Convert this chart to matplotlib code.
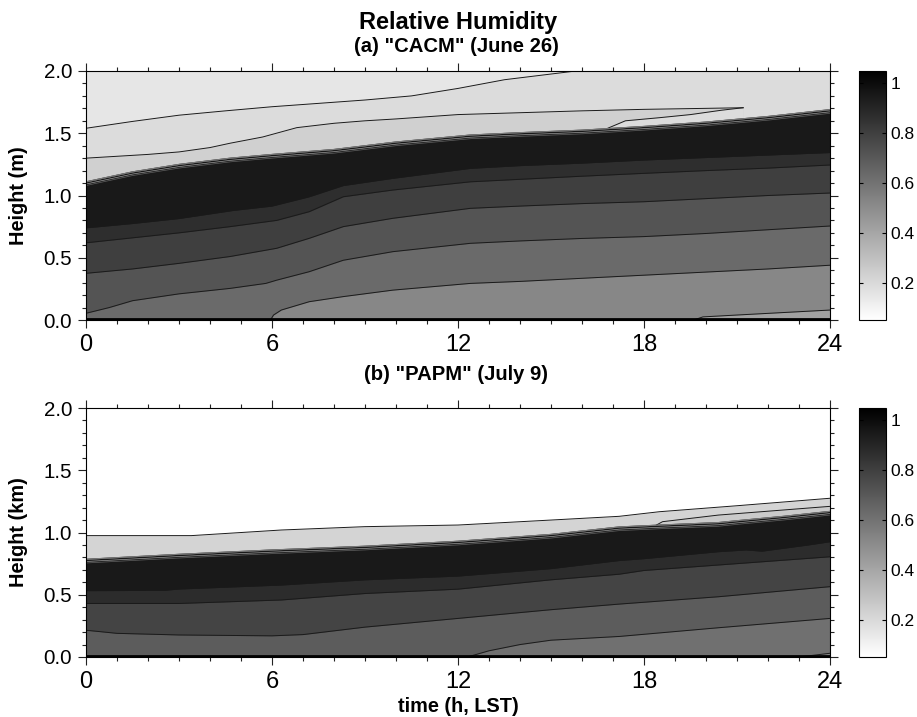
import matplotlib
matplotlib.use("Agg")
import matplotlib.pyplot as plt
from matplotlib.colors import Normalize
from matplotlib.cm import ScalarMappable
from matplotlib.ticker import MultipleLocator, FormatStrFormatter

plt.rcParams['font.family'] = ['Liberation Sans', 'DejaVu Sans']

# ---------------- data: panel (a) CACM, contour-line heights (m) ----------------
a_top_hours = [0, 1.5, 3, 4.5, 6, 7.5, 9, 10.5, 12, 13.5, 15.8]
a_top_height = [1.54, 1.595, 1.645, 1.68, 1.713, 1.74, 1.767, 1.80, 1.86, 1.93, 2.0]

a_b_hours = [0, 2, 3, 4, 4.65, 5.7, 6.8, 8, 9, 10, 12, 14, 16, 18, 20, 21.2]
a_b_height = [1.30, 1.33, 1.35, 1.385, 1.42, 1.47, 1.545, 1.58, 1.60, 1.615, 1.65, 1.665, 1.68, 1.692, 1.70, 1.705]

a_lens_hours = [16.8, 17.4, 18.5, 19.5, 20.5, 21.2]
a_lens_height = [1.537, 1.60, 1.625, 1.65, 1.685, 1.705]

a_c_hours = [0, 1.5, 3, 4.65, 6, 8, 10, 12.4, 14, 16, 18, 20, 22, 24]
a_c_height = [1.11, 1.19, 1.25, 1.30, 1.33, 1.37, 1.43, 1.486, 1.505, 1.525, 1.555, 1.59, 1.635, 1.69]

a_d_hours = [0, 1.5, 3, 4.75, 6, 7.2, 8.3, 9.9, 12.4, 14, 16, 18, 20, 22, 24]
a_d_height = [0.74, 0.775, 0.815, 0.88, 0.915, 0.99, 1.08, 1.138, 1.218, 1.24, 1.26, 1.285, 1.305, 1.325, 1.345]

a_e_hours = [0, 1.5, 3, 4.65, 6.15, 7.2, 8.3, 9.9, 12.4, 14, 16, 18, 20, 22, 24]
a_e_height = [0.62, 0.66, 0.70, 0.75, 0.80, 0.87, 0.99, 1.044, 1.11, 1.13, 1.155, 1.178, 1.20, 1.22, 1.245]

a_f_hours = [0, 1.5, 3, 4.65, 6.15, 7.2, 8.3, 9.9, 12.4, 14, 16, 18, 20, 22, 24]
a_f_height = [0.375, 0.41, 0.455, 0.51, 0.576, 0.656, 0.75, 0.817, 0.897, 0.915, 0.935, 0.95, 0.975, 1.0, 1.02]

a_g_hours = [0, 0.75, 1.5, 3, 4.65, 5.8, 6.15, 7.2, 8.3, 9.9, 12.4, 14, 16, 18, 20, 22, 24]
a_g_height = [0.054, 0.10, 0.155, 0.21, 0.254, 0.294, 0.32, 0.388, 0.48, 0.549, 0.616, 0.635, 0.655, 0.67, 0.695, 0.725, 0.755]

a_h_hours = [5.95, 6.05, 6.3, 7.2, 8.3, 9.9, 12.4, 14, 16, 18, 20, 22, 24]
a_h_height = [0.0, 0.04, 0.08, 0.147, 0.188, 0.24, 0.294, 0.31, 0.335, 0.36, 0.385, 0.41, 0.44]

a_i_hours = [19.6, 19.9, 21, 22.5, 24]
a_i_height = [0.0, 0.025, 0.04, 0.06, 0.08]

# relative humidity of the region under each line (panel a)
a_rh_above_top = 0.15
a_rh_background = 0.19
a_rh_bands = [0.235, 0.19, 0.95, 0.87, 0.80, 0.72, 0.635, 0.52, 0.42]

# ---------------- data: panel (b) PAPM, contour-line heights (km) ----------------
b_top_hours = [0, 3.4, 6.3, 9, 12, 15, 17.2, 18.5, 21, 24]
b_top_height = [0.975, 0.975, 1.02, 1.047, 1.06, 1.10, 1.13, 1.167, 1.215, 1.275]

b_b_hours = [18.4, 18.6, 20.4, 24]
b_b_height = [1.06, 1.087, 1.14, 1.21]

b_c_hours = [0, 3, 6, 9, 12, 15, 17.2, 18.5, 20.4, 21, 22.5, 24]
b_c_height = [0.785, 0.825, 0.86, 0.89, 0.93, 0.985, 1.045, 1.06, 1.08, 1.095, 1.13, 1.17]

b_d_hours = [0, 2.5, 3, 6.3, 9, 12, 15, 17.2, 18, 20.4, 21.3, 21.8, 23.3, 24]
b_d_height = [0.533, 0.535, 0.546, 0.578, 0.62, 0.65, 0.71, 0.775, 0.79, 0.846, 0.86, 0.85, 0.90, 0.926]

b_e_hours = [0, 3, 6.3, 9, 12, 15, 17.2, 18, 20.4, 24]
b_e_height = [0.43, 0.43, 0.458, 0.51, 0.545, 0.62, 0.665, 0.695, 0.739, 0.805]

b_f_hours = [0, 1, 3, 6, 7, 9, 12, 15, 17.2, 20.4, 24]
b_f_height = [0.215, 0.19, 0.177, 0.17, 0.18, 0.24, 0.31, 0.38, 0.425, 0.484, 0.565]

b_g_hours = [12.3, 13, 14, 15, 17.2, 20.4, 24]
b_g_height = [0.0, 0.05, 0.10, 0.135, 0.165, 0.235, 0.31]

b_h_hours = [23.0, 24]
b_h_height = [0.0, 0.03]

b_rh_background = 0.05
b_rh_bands = [0.218, 0.26, 0.95, 0.877, 0.783, 0.689, 0.61, 0.528]

cbar_ticks = [0.2, 0.4, 0.6, 0.8, 1.0]
cbar_ticklabels = ['0.2', '0.4', '0.6', '0.8', '1']
x_major = 6
title = "Relative Humidity"
sub_a = '(a) "CACM" (June 26)'
sub_b = '(b) "PAPM" (July 9)'

# ---------------- drawing ----------------
W, H = 917, 717
fig = plt.figure(figsize=(W / 100, H / 100), dpi=100)
cmap = plt.get_cmap('gray_r')
norm = Normalize(0.05, 1.05)


def shade(v):
    return cmap(norm(v))


def band(ax, hours, heights, v, lc='#1a1a1a', lw=0.7):
    ax.fill_between(hours, 0, heights, color=shade(v), lw=0, zorder=1)
    ax.plot(hours, heights, color=lc, lw=lw, zorder=2)


def boundary(ax, hours, heights):
    # sharp top of the moist layer with crowded contour lines
    ax.plot(hours, heights, color='#7a7a7a', lw=0.8, zorder=3)
    ax.plot(hours, [h - 0.018 for h in heights], color='#9a9a9a', lw=0.5, zorder=3)
    ax.plot(hours, [h - 0.03 for h in heights], color='#606060', lw=0.5, zorder=3)


def style(ax, ylabel):
    ax.set_xlim(0, 24)
    ax.set_ylim(0, 2)
    ax.xaxis.set_major_locator(MultipleLocator(x_major))
    ax.xaxis.set_minor_locator(MultipleLocator(1))
    ax.yaxis.set_major_locator(MultipleLocator(0.5))
    ax.yaxis.set_minor_locator(MultipleLocator(0.1))
    ax.yaxis.set_major_formatter(FormatStrFormatter('%.1f'))
    ax.tick_params(which='both', direction='out', top=True, right=True, width=0.8, color='#222222')
    ax.tick_params(which='major', length=6)
    ax.tick_params(which='minor', length=3)
    ax.tick_params(axis='x', labelsize=17, pad=4)
    ax.tick_params(axis='y', labelsize=14.8, pad=4)
    for s in ax.spines.values():
        s.set_linewidth(0.8)
        s.set_zorder(6)
    ax.set_ylabel(ylabel, fontsize=14.3, fontweight='bold')
    ax.yaxis.set_label_coords(-0.078, 0.5)
    ax.axhline(0.011, color='black', lw=2.0, zorder=4)


ax1 = fig.add_axes([86 / W, 1 - 320 / H, 744 / W, 249 / H])
ax1.set_facecolor(shade(a_rh_background))
ax1.fill_between(a_top_hours, a_top_height, 2.0, color=shade(a_rh_above_top), lw=0, zorder=1)
ax1.plot(a_top_hours, a_top_height, color='#1a1a1a', lw=0.7, zorder=2)
a_lines = [(a_b_hours, a_b_height), (a_lens_hours, a_lens_height), (a_c_hours, a_c_height),
           (a_d_hours, a_d_height), (a_e_hours, a_e_height), (a_f_hours, a_f_height),
           (a_g_hours, a_g_height), (a_h_hours, a_h_height), (a_i_hours, a_i_height)]
for (hrs, hts), v in zip(a_lines, a_rh_bands):
    band(ax1, hrs, hts, v)
boundary(ax1, a_c_hours, a_c_height)
style(ax1, 'Height (m)')

ax2 = fig.add_axes([86 / W, 1 - 657 / H, 744 / W, 249 / H])
ax2.set_facecolor(shade(b_rh_background))
b_lines = [(b_top_hours, b_top_height), (b_b_hours, b_b_height), (b_c_hours, b_c_height),
           (b_d_hours, b_d_height), (b_e_hours, b_e_height), (b_f_hours, b_f_height),
           (b_g_hours, b_g_height), (b_h_hours, b_h_height)]
for (hrs, hts), v in zip(b_lines, b_rh_bands):
    band(ax2, hrs, hts, v)
boundary(ax2, b_c_hours, b_c_height)
style(ax2, 'Height (km)')

sm = ScalarMappable(norm=norm, cmap=cmap)
for top in (71, 408):
    cax = fig.add_axes([859 / W, 1 - (top + 249) / H, 27 / W, 249 / H])
    cb = fig.colorbar(sm, cax=cax, ticks=cbar_ticks)
    cb.ax.set_yticklabels(cbar_ticklabels)
    cb.ax.tick_params(which='both', left=True, right=True, direction='in', length=3,
                      width=0.8, labelsize=12.5, pad=3)
    cb.outline.set_linewidth(0.8)

fig.text(458 / W, 1 - 23 / H, title, ha='center', va='center', fontsize=17, fontweight='bold')
fig.text(456 / W, 1 - 47 / H, sub_a, ha='center', va='center', fontsize=14.6, fontweight='bold')
fig.text(456 / W, 1 - 375 / H, sub_b, ha='center', va='center', fontsize=14.6, fontweight='bold')
fig.text(458 / W, 1 - 712 / H, 'time (h, LST)', ha='center', va='baseline', fontsize=14.3,
         fontweight='bold')

fig.savefig('out.png', dpi=100)
